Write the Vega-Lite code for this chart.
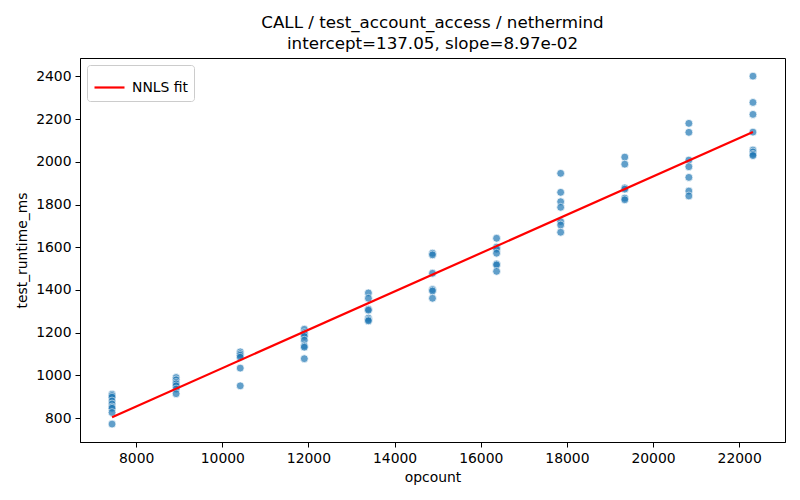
{
  "$schema": "https://vega.github.io/schema/vega-lite/v6.json",
  "width": 705,
  "height": 384,
  "autosize": {"type": "none"},
  "padding": {"left": 80, "top": 58, "right": 15, "bottom": 58},
  "background": "white",
  "config": {
    "font": "DejaVu Sans",
    "view": {"stroke": "black", "strokeWidth": 1},
    "axis": {
      "grid": false,
      "domainColor": "black",
      "tickColor": "black",
      "tickSize": 5,
      "labelFontSize": 13.9,
      "labelColor": "black",
      "titleFontSize": 13.9,
      "titleFontWeight": "normal",
      "titleColor": "black",
      "labelPadding": 4
    }
  },
  "title": {
    "text": ["CALL / test_account_access / nethermind", "intercept=137.05, slope=8.97e-02"],
    "fontSize": 16.7,
    "fontWeight": "normal",
    "lineHeight": 21,
    "anchor": "middle",
    "color": "black",
    "offset": 5
  },
  "datasets": {
    "points": [
      {"opcount": 7440, "test_runtime_ms": 912},
      {"opcount": 7440, "test_runtime_ms": 905},
      {"opcount": 7440, "test_runtime_ms": 898},
      {"opcount": 7440, "test_runtime_ms": 880},
      {"opcount": 7440, "test_runtime_ms": 866},
      {"opcount": 7440, "test_runtime_ms": 852},
      {"opcount": 7440, "test_runtime_ms": 846},
      {"opcount": 7440, "test_runtime_ms": 826},
      {"opcount": 7440, "test_runtime_ms": 772},
      {"opcount": 8928, "test_runtime_ms": 990},
      {"opcount": 8928, "test_runtime_ms": 979},
      {"opcount": 8928, "test_runtime_ms": 967},
      {"opcount": 8928, "test_runtime_ms": 960},
      {"opcount": 8928, "test_runtime_ms": 951},
      {"opcount": 8928, "test_runtime_ms": 936},
      {"opcount": 8928, "test_runtime_ms": 914},
      {"opcount": 10416, "test_runtime_ms": 1110},
      {"opcount": 10416, "test_runtime_ms": 1101},
      {"opcount": 10416, "test_runtime_ms": 1094},
      {"opcount": 10416, "test_runtime_ms": 1085},
      {"opcount": 10416, "test_runtime_ms": 1034},
      {"opcount": 10416, "test_runtime_ms": 951},
      {"opcount": 11904, "test_runtime_ms": 1216},
      {"opcount": 11904, "test_runtime_ms": 1200},
      {"opcount": 11904, "test_runtime_ms": 1193},
      {"opcount": 11904, "test_runtime_ms": 1182},
      {"opcount": 11904, "test_runtime_ms": 1165},
      {"opcount": 11904, "test_runtime_ms": 1138},
      {"opcount": 11904, "test_runtime_ms": 1132},
      {"opcount": 11904, "test_runtime_ms": 1078},
      {"opcount": 13392, "test_runtime_ms": 1386},
      {"opcount": 13392, "test_runtime_ms": 1361},
      {"opcount": 13392, "test_runtime_ms": 1310},
      {"opcount": 13392, "test_runtime_ms": 1305},
      {"opcount": 13392, "test_runtime_ms": 1268},
      {"opcount": 13392, "test_runtime_ms": 1260},
      {"opcount": 13392, "test_runtime_ms": 1255},
      {"opcount": 14880, "test_runtime_ms": 1572},
      {"opcount": 14880, "test_runtime_ms": 1564},
      {"opcount": 14880, "test_runtime_ms": 1478},
      {"opcount": 14880, "test_runtime_ms": 1402},
      {"opcount": 14880, "test_runtime_ms": 1395},
      {"opcount": 14880, "test_runtime_ms": 1361},
      {"opcount": 16368, "test_runtime_ms": 1642},
      {"opcount": 16368, "test_runtime_ms": 1600},
      {"opcount": 16368, "test_runtime_ms": 1591},
      {"opcount": 16368, "test_runtime_ms": 1572},
      {"opcount": 16368, "test_runtime_ms": 1522},
      {"opcount": 16368, "test_runtime_ms": 1517},
      {"opcount": 16368, "test_runtime_ms": 1487},
      {"opcount": 17856, "test_runtime_ms": 1946},
      {"opcount": 17856, "test_runtime_ms": 1857},
      {"opcount": 17856, "test_runtime_ms": 1813},
      {"opcount": 17856, "test_runtime_ms": 1787},
      {"opcount": 17856, "test_runtime_ms": 1720},
      {"opcount": 17856, "test_runtime_ms": 1704},
      {"opcount": 17856, "test_runtime_ms": 1670},
      {"opcount": 19344, "test_runtime_ms": 2022},
      {"opcount": 19344, "test_runtime_ms": 1989},
      {"opcount": 19344, "test_runtime_ms": 1878},
      {"opcount": 19344, "test_runtime_ms": 1872},
      {"opcount": 19344, "test_runtime_ms": 1830},
      {"opcount": 19344, "test_runtime_ms": 1822},
      {"opcount": 20832, "test_runtime_ms": 2180},
      {"opcount": 20832, "test_runtime_ms": 2138},
      {"opcount": 20832, "test_runtime_ms": 2008},
      {"opcount": 20832, "test_runtime_ms": 1977},
      {"opcount": 20832, "test_runtime_ms": 1927},
      {"opcount": 20832, "test_runtime_ms": 1863},
      {"opcount": 20832, "test_runtime_ms": 1840},
      {"opcount": 22320, "test_runtime_ms": 2401},
      {"opcount": 22320, "test_runtime_ms": 2278},
      {"opcount": 22320, "test_runtime_ms": 2222},
      {"opcount": 22320, "test_runtime_ms": 2139},
      {"opcount": 22320, "test_runtime_ms": 2055},
      {"opcount": 22320, "test_runtime_ms": 2046},
      {"opcount": 22320, "test_runtime_ms": 2035},
      {"opcount": 22320, "test_runtime_ms": 2029}
    ],
    "fit": [
      {"opcount": 7440, "test_runtime_ms": 804.4, "series": "NNLS fit"},
      {"opcount": 22320, "test_runtime_ms": 2139.2, "series": "NNLS fit"}
    ]
  },
  "layer": [
    {
      "data": {"name": "points"},
      "mark": {"type": "point", "shape": "circle", "filled": true, "size": 62, "color": "#1f77b4", "opacity": 0.7, "stroke": "white", "strokeWidth": 0.75, "strokeOpacity": 1},
      "encoding": {
        "x": {"field": "opcount", "type": "quantitative", "scale": {"domain": [6696, 23064], "nice": false, "zero": false},
              "axis": {"values": [8000, 10000, 12000, 14000, 16000, 18000, 20000, 22000], "format": "d", "title": "opcount", "titlePadding": 6}},
        "y": {"field": "test_runtime_ms", "type": "quantitative", "scale": {"domain": [688, 2486], "nice": false, "zero": false},
              "axis": {"values": [800, 1000, 1200, 1400, 1600, 1800, 2000, 2200, 2400], "format": "d", "title": "test_runtime_ms", "titlePadding": 6}}
      }
    },
    {
      "data": {"name": "fit"},
      "mark": {"type": "line", "strokeWidth": 2.2},
      "encoding": {
        "x": {"field": "opcount", "type": "quantitative"},
        "y": {"field": "test_runtime_ms", "type": "quantitative"},
        "color": {"field": "series", "type": "nominal", "scale": {"domain": ["NNLS fit"], "range": ["red"]},
                  "legend": {"title": null, "orient": "top-left", "offset": 7, "symbolType": "stroke", "symbolSize": 900, "symbolStrokeWidth": 2.2,
                             "labelFontSize": 13.9, "labelColor": "black", "strokeColor": "#cccccc", "fillColor": "white", "padding": 6, "cornerRadius": 3, "labelOffset": 6}}
      }
    }
  ]
}
